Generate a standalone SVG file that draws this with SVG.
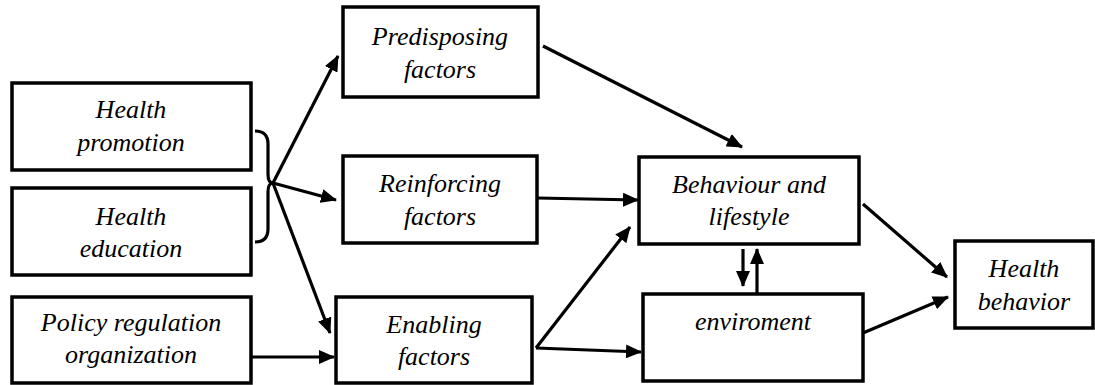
<svg xmlns="http://www.w3.org/2000/svg" width="1095" height="385" viewBox="0 0 1095 385">
<style>
.box{fill:#fff;stroke:#000;stroke-width:3.5}
.t{font-family:'Liberation Serif','Times New Roman',Times,serif;font-style:italic;font-size:26px;text-anchor:middle;fill:#000}
.c{fill:none;stroke:#000;stroke-width:3.2}
</style>
<defs>
<marker id="ah" markerUnits="userSpaceOnUse" markerWidth="16" markerHeight="14" refX="15" refY="7" orient="auto">
<path d="M0,0 L16,7 L0,14 z" fill="#000"/>
</marker>
</defs>
<rect width="1095" height="385" fill="#fff"/>
<g id="n-promotion"><rect class="box" x="12" y="83" width="239" height="87"/><text class="t" x="131" y="118">Health</text><text class="t" x="131" y="151">promotion</text></g>
<g id="n-education"><rect class="box" x="12" y="188" width="239" height="87"/><text class="t" x="131" y="225">Health</text><text class="t" x="131" y="257">education</text></g>
<g id="n-policy"><rect class="box" x="12" y="297" width="239" height="86"/><text class="t" x="131" y="331">Policy regulation</text><text class="t" x="131" y="363">organization</text></g>
<g id="n-predisposing"><rect class="box" x="343" y="7" width="195" height="90"/><text class="t" x="440" y="45">Predisposing</text><text class="t" x="440" y="78">factors</text></g>
<g id="n-reinforcing"><rect class="box" x="343" y="156" width="194" height="87"/><text class="t" x="440" y="192">Reinforcing</text><text class="t" x="440" y="225">factors</text></g>
<g id="n-enabling"><rect class="box" x="336" y="297" width="196" height="86"/><text class="t" x="434" y="333">Enabling</text><text class="t" x="434" y="365">factors</text></g>
<g id="n-behaviour"><rect class="box" x="639" y="157" width="220" height="87"/><text class="t" x="749" y="193">Behaviour and</text><text class="t" x="749" y="225">lifestyle</text></g>
<g id="n-environment"><rect class="box" x="643" y="294" width="220" height="87"/><text class="t" x="753" y="330">enviroment</text></g>
<g id="n-healthbehavior"><rect class="box" x="955" y="241" width="138" height="87"/><text class="t" x="1024" y="277">Health</text><text class="t" x="1024" y="310">behavior</text></g>
<g id="connectors">
<path class="c" d="M255,131 Q268,131 268,144 L268,174 Q268,183 273,183 Q268,183 268,192 L268,229 Q268,242 255,242"/>
<line class="c" x1="273" y1="183" x2="338" y2="56" marker-end="url(#ah)"/>
<line class="c" x1="273" y1="183" x2="336" y2="200" marker-end="url(#ah)"/>
<line class="c" x1="273" y1="183" x2="330" y2="333" marker-end="url(#ah)"/>
<line class="c" x1="251" y1="357" x2="334" y2="357" marker-end="url(#ah)"/>
<line class="c" x1="543" y1="46" x2="742" y2="147" marker-end="url(#ah)"/>
<line class="c" x1="537" y1="198" x2="638" y2="200" marker-end="url(#ah)"/>
<polyline class="c" points="536,348 641,352" marker-end="url(#ah)"/>
<line class="c" x1="536" y1="348" x2="630" y2="227" marker-end="url(#ah)"/>
<line class="c" x1="743" y1="249" x2="743" y2="286" marker-end="url(#ah)"/>
<line class="c" x1="757" y1="294" x2="757" y2="249" marker-end="url(#ah)"/>
<line class="c" x1="863" y1="204" x2="947" y2="277" marker-end="url(#ah)"/>
<line class="c" x1="863" y1="333" x2="948" y2="297" marker-end="url(#ah)"/>
</g>
</svg>
